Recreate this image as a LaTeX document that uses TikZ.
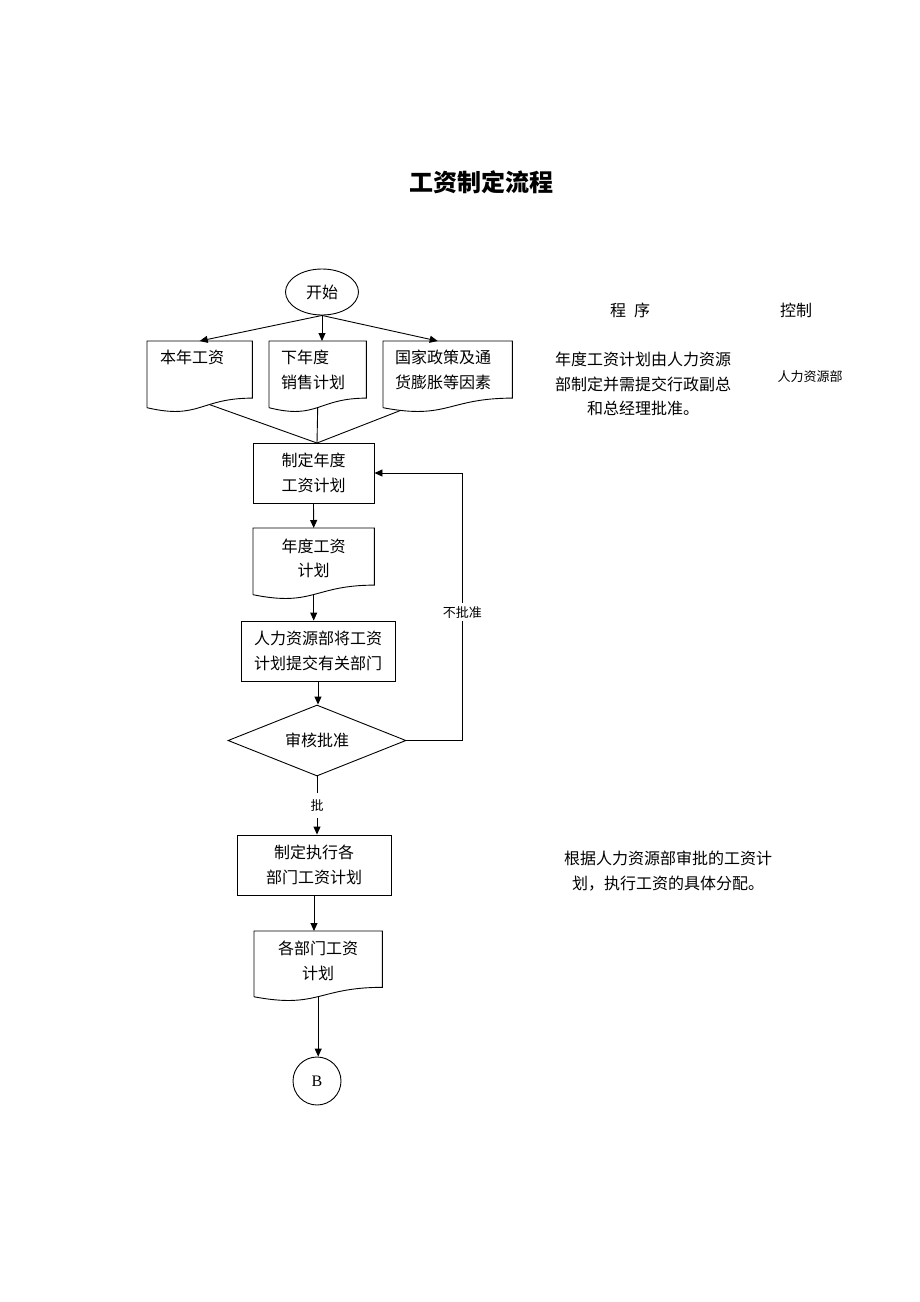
\documentclass[tikz,border=0pt]{standalone}
\usepackage{fontspec}
\setmainfont{Liberation Serif}
\newfontfamily\cjk{Noto Sans CJK SC}
\usetikzlibrary{shapes.geometric,arrows.meta,calc}

\tikzset{
  base/.style={draw, line width=0.9pt, font=\cjk\fontsize{16}{24.5}\selectfont, inner sep=0pt},
  box/.style={base, rectangle, minimum height=60pt, align=center},
  docbox/.style={rectangle, inner sep=0pt, anchor=north west},
  txt/.style={font=\cjk\fontsize{16}{24.5}\selectfont, inner sep=0pt},
  small/.style={font=\cjk\fontsize{13}{16}\selectfont, inner sep=0pt},
  flow/.style={line width=0.9pt, -{Triangle[length=8pt,width=7pt]}},
  link/.style={line width=0.9pt},
}

% outline of a document node, #2 = where the outgoing line leaves the wave
\newcommand{\docpath}[2]{%
  \draw[line width=0.9pt] ($(#1.north west)!0.934!(#1.south west)$) -- (#1.north west) -- (#1.north east)
    -- ($(#1.north east)!0.80!(#1.south east)$)
    .. controls ($(#1.north)!0.80!(#1.south)$) and ($(#1.north)!1.107!(#1.south)$) ..
    ($(#1.north west)!0.934!(#1.south west)$) coordinate[pos=#2] (#1-out);}

\begin{document}
\begin{tikzpicture}[x=1pt, y=-1pt]
  \useasboundingbox (0,0) rectangle (920,1302);

  % Draw the title
  \node[font=\cjk\bfseries\fontsize{24}{28}\selectfont] (title) at (481,182) {工资制定流程};

  % Draw the start and the three inputs
  \node[base, ellipse, minimum width=73pt, minimum height=46pt] (start) at (322,292) {开始};
  \node[docbox, minimum width=105pt, minimum height=71pt] (d1) at (147,341) {};
  \node[docbox, minimum width=97pt, minimum height=71pt] (d2) at (269,341) {};
  \node[docbox, minimum width=129pt, minimum height=71pt] (d3) at (383,341) {};
  \docpath{d1}{0.38}
  \docpath{d2}{0.5}
  \docpath{d3}{0.9}
  \node[txt, anchor=west] (d1t) at (160,357) {本年工资};
  \node[txt, anchor=west, align=left] (d2t) at (281,370) {下年度\\销售计划};
  \node[txt, anchor=west, align=left] (d3t) at (395,370) {国家政策及通\\货膨胀等因素};

  \draw[flow] (start.south) -- (d1.north);
  \draw[flow] (start.south) -- (start.south |- d2.north);
  \draw[flow] (start.south) -- ($(d3.north)+(-10,0)$);

  % Draw the main column
  \node[box, minimum width=121pt] (b1) at (313.5,473) {制定年度\\工资计划};
  \node[docbox, minimum width=121pt, minimum height=71pt] (d4) at (253,528) {};
  \docpath{d4}{0.5}
  \node[txt, align=center] (d4t) at (313.5,558.5) {年度工资\\计划};
  \node[box, minimum width=154pt] (b2) at (318,651) {人力资源部将工资\\计划提交有关部门};
  \node[base, diamond, aspect=2.5, minimum width=178pt, minimum height=71pt] (dia) at (317,740.5) {审核批准};
  \node[box, minimum width=154pt] (b3) at (314,865) {制定执行各\\部门工资计划};
  \node[docbox, minimum width=128pt, minimum height=70pt] (d5) at (254,931) {};
  \docpath{d5}{0.5}
  \node[txt, align=center] (d5t) at (318,961) {各部门工资\\计划};
  \node[base, circle, minimum size=48pt, font=\fontsize{16}{20}\selectfont] (endB) at (317,1081) {B};

  % Draw the connectors
  \coordinate (merge) at (317,443);
  \draw[link] (d1-out) -- (merge);
  \draw[link] (d2-out) -- (merge);
  \draw[link] (d3-out) -- (merge);
  \draw[flow] (b1.south) -- (d4.north);
  \draw[flow] (d4-out) -- (d4-out |- b2.north);
  \draw[flow] (b2.south) -- (b2.south |- dia.north);
  \draw[flow] (dia.east) -- ++(56,0) |- node[pos=0.24, small, fill=white, inner ysep=3pt, inner xsep=1pt] (nolbl) {不批准} (b1.east);
  \draw[flow] (dia.south) -- node[small, fill=white, inner ysep=7pt, inner xsep=1pt] (yeslbl) {批} (dia.south |- b3.north);
  \draw[flow] (b3.south) -- (b3.south |- d5.north);
  \draw[flow] (d5-out) -- (d5-out |- endB.north);

  % Draw the notes on the right
  \node[txt] (hdproc) at (630,310) {程\hspace{0.5em}序};
  \node[txt] (hdctrl) at (796,310) {控制};
  \node[txt, align=center] (note1) at (643,384) {年度工资计划由人力资源\\部制定并需提交行政副总\\和总经理批准。};
  \node[small] (owner1) at (810,377) {人力资源部};
  \node[txt, align=center] (note2) at (668,871) {根据人力资源部审批的工资计\\划，执行工资的具体分配。};
\end{tikzpicture}
\end{document}
